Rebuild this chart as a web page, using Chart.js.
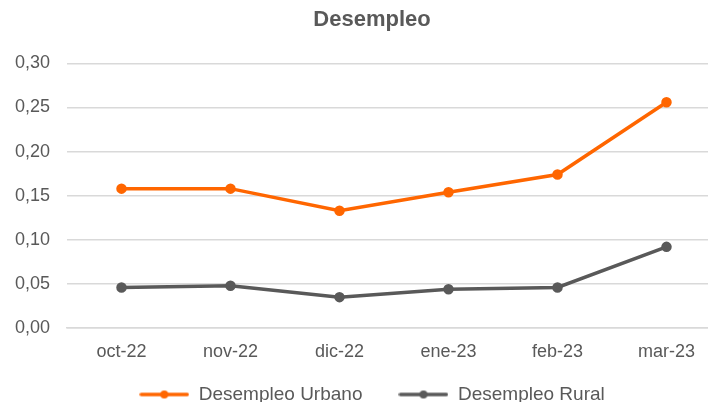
<!DOCTYPE html>
<html>
<head>
<meta charset="utf-8">
<script src="https://cdn.jsdelivr.net/npm/chart.js@4"></script>
<style>
  html, body { margin: 0; padding: 0; background: #fff; overflow: hidden; }
  #wrap { width: 708px; height: 402px; overflow: hidden; position: relative; }
  #box { width: 744px; height: 414px; position: absolute; left: 0; top: 0; }
</style>
</head>
<body>
<div id="wrap"><div id="box"><canvas id="chart"></canvas></div></div>
<script>
const months = ["oct-22", "nov-22", "dic-22", "ene-23", "feb-23", "mar-23"];
const urbano = [0.158, 0.158, 0.133, 0.154, 0.174, 0.256];
const rural = [0.046, 0.048, 0.035, 0.044, 0.046, 0.092];
const yTicks = [0, 0.05, 0.10, 0.15, 0.20, 0.25, 0.30];

const ORANGE = "#ff6600";
const GREY = "#595959";
const FONT = "'Liberation Sans', Arial, sans-serif";

// little line-with-dot swatch for the legend
function swatch(color) {
  const c = document.createElement("canvas");
  c.width = 50; c.height = 10;
  const x = c.getContext("2d");
  x.strokeStyle = color; x.lineWidth = 3.5; x.lineCap = "round";
  x.beginPath(); x.moveTo(2, 5); x.lineTo(48, 5); x.stroke();
  x.fillStyle = color;
  x.beginPath(); x.arc(25, 5, 4, 0, Math.PI * 2); x.fill();
  return c;
}
const swatches = [swatch(ORANGE), swatch(GREY)];

// labels overflow their squeezed axis boxes, so widen the boxes after layout
// (otherwise they get clipped)
const stretchAxes = {
  id: "stretchAxes",
  afterLayout(chart) {
    const x = chart.scales.x;
    x.bottom = x.top + 45;
    chart.scales.y.left = 0;
  },
};

document.addEventListener('DOMContentLoaded', () => {
  const ctx = document.getElementById("chart").getContext("2d");
  new Chart(ctx, {
    type: "line",
    data: {
      labels: months,
      datasets: [
        {
          label: "Desempleo Urbano",
          data: urbano,
          borderColor: ORANGE,
          backgroundColor: ORANGE,
          borderWidth: 3.5,
          pointRadius: 3.5,
          pointHoverRadius: 3.5,
          tension: 0,
        },
        {
          label: "Desempleo Rural",
          data: rural,
          borderColor: GREY,
          backgroundColor: GREY,
          borderWidth: 3.5,
          pointRadius: 3.5,
          pointHoverRadius: 3.5,
          tension: 0,
        },
      ],
    },
    options: {
      responsive: true,
      maintainAspectRatio: false,
      animation: false,
      layout: { padding: { left: 23, right: 23, top: 0, bottom: 0 } },
      plugins: {
        title: {
          display: true,
          text: "Desempleo",
          color: GREY,
          font: { family: FONT, size: 22, weight: "bold" },
          padding: { top: 7, bottom: 30 },
        },
        legend: {
          position: "bottom",
          labels: {
            usePointStyle: true,
            pointStyleWidth: 50,
            boxHeight: 10,
            padding: 36,
            color: GREY,
            font: { family: FONT, size: 19 },
            generateLabels(chart) {
              const items = Chart.defaults.plugins.legend.labels.generateLabels(chart);
              items.forEach((it, i) => { it.pointStyle = swatches[i]; });
              return items;
            },
          },
        },
        tooltip: { enabled: false },
      },
      scales: {
        x: {
          offset: true,
          grid: { display: false, drawTicks: false },
          border: { color: "#d9d9d9", width: 1.5 },
          ticks: { color: GREY, font: { family: FONT, size: 18 }, padding: 13 },
          afterFit(axis) { axis.height = 21; },
        },
        y: {
          min: 0,
          max: 0.30,
          afterBuildTicks(axis) { axis.ticks = yTicks.map(v => ({ value: v })); },
          afterFit(axis) { axis.width = 44; },
          grid: { color: "#d9d9d9", lineWidth: 1.5, drawTicks: false },
          border: { display: false },
          ticks: {
            color: GREY,
            font: { family: FONT, size: 18 },
            padding: 17,
            callback: v => v.toFixed(2).replace(".", ","),
          },
        },
      },
    },
    plugins: [stretchAxes],
  });
});
</script>
</body>
</html>
